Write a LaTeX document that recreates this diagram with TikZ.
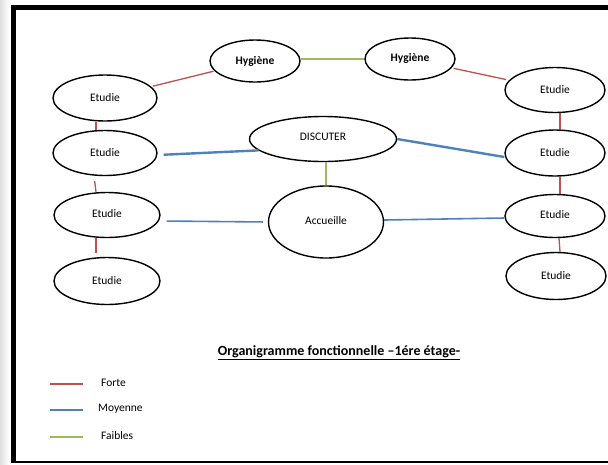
\documentclass[tikz,border=0pt]{standalone}
\usepackage{fontspec}
\setmainfont{Carlito}
\usetikzlibrary{shapes.geometric}
\definecolor{forte}{RGB}{192,80,77}
\definecolor{moyenne}{RGB}{79,129,189}
\definecolor{faible}{RGB}{155,187,89}
\tikzset{
  oval/.style={ellipse, draw=black, line width=1.4pt, inner sep=0pt, font=\fontsize{11.5}{13}\selectfont},
  fortel/.style={draw=forte, line width=1.3pt},
  moyl/.style={draw=moyenne, line width=1.6pt},
  moythick/.style={draw=moyenne, line width=2.4pt},
  faiblel/.style={draw=faible, line width=2pt},
  legtext/.style={anchor=west, font=\fontsize{11.5}{13}\selectfont, inner sep=0pt}
}
\begin{document}
\begin{tikzpicture}[x=1pt,y=-1pt]
\useasboundingbox (0,0) rectangle (608,464);
\fill[white] (0,0) rectangle (608,464);
\shade[left color=gray!25, right color=white] (0,0) rectangle (9,464);
% frame
\fill[black] (11,5) rectangle (16,463);
\fill[black] (11,5) rectangle (608,10);
\fill[black] (11,460.5) rectangle (608,463);

% nodes
\node[oval, minimum width=90pt, minimum height=42pt] (hl) at (255,61) {\textbf{Hygiène}};
\node[oval, minimum width=90pt, minimum height=42pt] (hr) at (410,59) {\raisebox{3pt}{\textbf{Hygiène}}};
\node[oval, minimum width=104pt, minimum height=46pt] (e1) at (105,98) {Etudie};
\node[oval, minimum width=104pt, minimum height=45pt] (e2) at (105,153) {Etudie};
\node[oval, minimum width=106pt, minimum height=45pt] (e3) at (107,215) {\raisebox{3pt}{Etudie}};
\node[oval, minimum width=106pt, minimum height=47pt] (e4) at (107,281) {Etudie};
\node[oval, minimum width=100pt, minimum height=45pt] (r1) at (555,90) {Etudie};
\node[oval, minimum width=100pt, minimum height=46pt] (r2) at (555,153) {Etudie};
\node[oval, minimum width=100pt, minimum height=43pt] (r3) at (555,216) {\raisebox{2pt}{Etudie}};
\node[oval, minimum width=100pt, minimum height=47pt] (r4) at (556,276) {Etudie};
\node[oval, minimum width=147pt, minimum height=45pt] (disc) at (323,139) {\raisebox{4pt}{DISCUTER}};
\node[oval, minimum width=115pt, minimum height=72pt] (acc) at (326,222) {\raisebox{3pt}{Accueille}};

% red (forte)
\draw[fortel, shorten <=2pt, shorten >=1pt] (e1) -- (hl);
\draw[fortel, shorten <=2pt, shorten >=3pt] (hr) -- (r1);
\draw[fortel] ([xshift=-9pt]e1.south) -- ([xshift=-9pt]e2.north);
\draw[fortel, shorten <=5pt] ([xshift=-11pt]e2.south) -- ([xshift=-11pt]e3.north);
\draw[fortel, shorten >=4pt] ([xshift=-11pt]e3.south) -- ([xshift=-11pt]e4.north);
\draw[fortel] ([xshift=5pt]r1.south) -- ([xshift=5pt]r2.north);
\draw[fortel] ([xshift=5pt]r2.south) -- ([xshift=5pt]r3.north);
\draw[fortel] ([xshift=4pt]r3.south) -- ([xshift=4pt]r4.north);

% blue (moyenne)
\draw[moythick, shorten <=6pt] ([yshift=-2pt]e2.east) -- (disc.190);
\draw[moythick] (disc.east) -- ([yshift=-4pt]r2.west);
\draw[moyl, shorten <=6pt, shorten >=5pt] ([yshift=-6pt]e3.east) -- (acc.west);
\draw[moyl] ([yshift=2pt]acc.east) -- ([yshift=-2pt]r3.west);

% green (faibles)
\draw[faiblel] (hl.east |- hr.west) -- (hr.west);
\draw[faiblel] (disc.south -| acc.north) -- (acc.north);

% title
\node[font=\fontsize{14}{16}\selectfont\bfseries, inner sep=0pt] (title) at (339,353) {\underline{Organigramme fonctionnelle –1ére étage-}};

% legend
\coordinate (l1a) at (50,384); \coordinate (l1b) at (83,384);
\coordinate (l2a) at (50,410); \coordinate (l2b) at (83,410);
\coordinate (l3a) at (50,437); \coordinate (l3b) at (83,437);
\draw[fortel, line width=1.6pt] (l1a) -- (l1b);
\draw[moyl, line width=1.6pt] (l2a) -- (l2b);
\draw[faiblel, line width=1.8pt] (l3a) -- (l3b);
\node[legtext] (lf) at (101,383) {Forte};
\node[legtext] (lm) at (98,409) {Moyenne};
\node[legtext] (lfa) at (101,436) {Faibles};
\end{tikzpicture}
\end{document}
